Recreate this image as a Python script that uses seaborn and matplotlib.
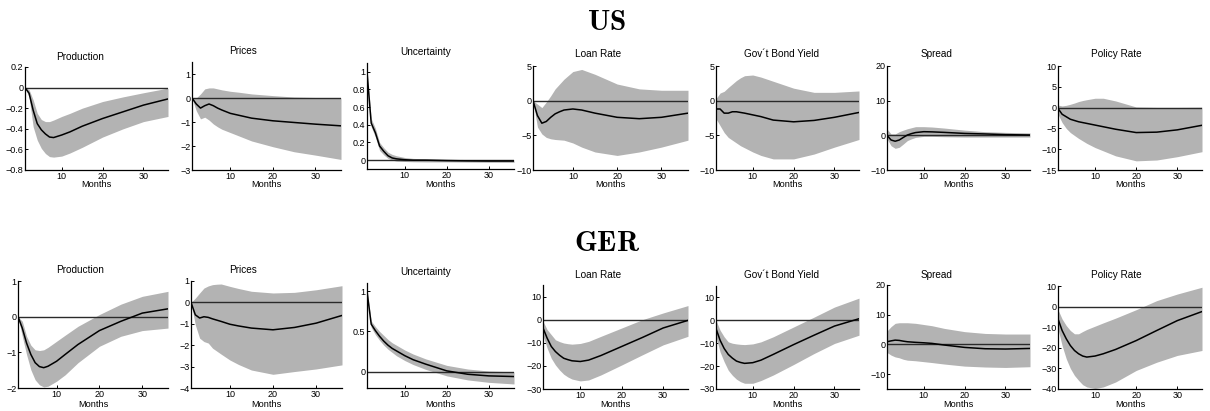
import matplotlib
matplotlib.use("Agg")
import matplotlib.pyplot as plt
import numpy as np
import pandas as pd
import seaborn as sns

# ---------------- data ----------------
MONTHS = [1, 2, 3, 4, 5, 6, 7, 8, 10, 12, 15, 20, 25, 30, 36]
VARIABLES = ["Production", "Prices", "Uncertainty", "Loan Rate",
             "Gov\u00b4t Bond Yield", "Spread", "Policy Rate"]
COUNTRIES = ["US", "GER"]

# US
US_PROD_MED = [0, -0.055, -0.22, -0.35, -0.41, -0.45, -0.48, -0.485, -0.46, -0.43, -0.375, -0.30, -0.235, -0.17, -0.11]
US_PROD_UP = [0, -0.02, -0.12, -0.25, -0.31, -0.33, -0.33, -0.315, -0.28, -0.25, -0.20, -0.135, -0.09, -0.05, -0.005]
US_PROD_LO = [0, -0.09, -0.38, -0.51, -0.59, -0.64, -0.67, -0.675, -0.665, -0.635, -0.58, -0.48, -0.40, -0.33, -0.28]

US_PRICES_MED = [0, -0.25, -0.42, -0.32, -0.25, -0.32, -0.42, -0.5, -0.64, -0.72, -0.84, -0.95, -1.02, -1.09, -1.16]
US_PRICES_UP = [0, 0.0, 0.17, 0.38, 0.42, 0.42, 0.38, 0.34, 0.28, 0.24, 0.17, 0.10, 0.04, 0.02, 0.01]
US_PRICES_LO = [0, -0.53, -0.87, -0.80, -0.92, -1.08, -1.2, -1.3, -1.44, -1.58, -1.79, -2.03, -2.24, -2.38, -2.56]

US_UNC_MED = [1.0, 0.42, 0.31, 0.16, 0.10, 0.05, 0.025, 0.015, 0.005, 0.0, 0.0, -0.005, -0.008, -0.01, -0.01]
US_UNC_UP = [1.0, 0.47, 0.36, 0.20, 0.14, 0.09, 0.065, 0.05, 0.03, 0.02, 0.015, 0.01, 0.007, 0.005, 0.005]
US_UNC_LO = [1.0, 0.38, 0.26, 0.11, 0.06, 0.02, 0.0, -0.01, -0.015, -0.018, -0.02, -0.02, -0.022, -0.024, -0.025]

US_LOAN_MED = [0, -2.15, -3.25, -3.0, -2.4, -1.9, -1.6, -1.35, -1.2, -1.35, -1.8, -2.4, -2.6, -2.4, -1.8]
US_LOAN_UP = [0, -0.5, -1.0, -0.2, 0.7, 1.7, 2.4, 3.1, 4.2, 4.5, 3.8, 2.4, 1.7, 1.5, 1.5]
US_LOAN_LO = [0, -3.8, -4.8, -5.3, -5.5, -5.6, -5.65, -5.7, -6.1, -6.7, -7.4, -7.9, -7.4, -6.7, -5.7]

US_GOV_MED = [-1.2, -1.2, -1.8, -1.8, -1.6, -1.6, -1.7, -1.8, -2.05, -2.3, -2.8, -3.05, -2.85, -2.4, -1.7]
US_GOV_UP = [0.3, 1.1, 1.35, 1.9, 2.4, 2.9, 3.3, 3.6, 3.7, 3.4, 2.8, 1.8, 1.2, 1.2, 1.4]
US_GOV_LO = [-2.6, -3.6, -4.6, -5.3, -5.7, -6.1, -6.5, -6.8, -7.4, -7.9, -8.4, -8.4, -7.7, -6.7, -5.6]

US_SPREAD_MED = [0, -1.35, -1.7, -1.35, -0.6, 0.1, 0.5, 0.8, 1.05, 1.0, 0.85, 0.55, 0.4, 0.2, 0.1]
US_SPREAD_UP = [1.8, 0.4, 0.4, 1.05, 1.5, 1.9, 2.2, 2.5, 2.5, 2.4, 2.1, 1.5, 1.05, 0.85, 0.7]
US_SPREAD_LO = [-1.0, -3.0, -3.75, -3.45, -2.5, -1.5, -1.0, -0.6, -0.3, -0.3, -0.4, -0.5, -0.5, -0.5, -0.5]

US_POLICY_MED = [-0.2, -1.6, -2.2, -2.8, -3.1, -3.4, -3.6, -3.8, -4.2, -4.6, -5.2, -6.0, -5.9, -5.35, -4.25]
US_POLICY_UP = [0.6, 0.4, 0.55, 0.8, 1.1, 1.45, 1.7, 1.9, 2.25, 2.25, 1.6, 0.15, 0.05, 0.05, 0.1]
US_POLICY_LO = [-1.6, -3.6, -5.0, -6.0, -6.7, -7.4, -8.0, -8.6, -9.6, -10.4, -11.6, -12.8, -12.6, -11.8, -10.6]

# GER
GER_PROD_MED = [0, -0.32, -0.74, -1.06, -1.29, -1.40, -1.43, -1.39, -1.25, -1.06, -0.78, -0.39, -0.13, 0.10, 0.22]
GER_PROD_UP = [0, -0.13, -0.55, -0.80, -0.93, -0.95, -0.93, -0.86, -0.69, -0.52, -0.27, 0.06, 0.35, 0.57, 0.71]
GER_PROD_LO = [0, -0.55, -1.06, -1.49, -1.77, -1.91, -1.97, -1.95, -1.81, -1.63, -1.29, -0.83, -0.55, -0.39, -0.32]

GER_PRICES_MED = [0, -0.58, -0.73, -0.67, -0.70, -0.77, -0.83, -0.89, -1.02, -1.10, -1.20, -1.28, -1.17, -0.97, -0.61]
GER_PRICES_UP = [0, 0.2, 0.44, 0.67, 0.77, 0.83, 0.85, 0.86, 0.75, 0.65, 0.52, 0.44, 0.47, 0.59, 0.78]
GER_PRICES_LO = [0, -1.05, -1.67, -1.83, -1.90, -2.14, -2.28, -2.42, -2.69, -2.90, -3.16, -3.36, -3.23, -3.11, -2.92]

GER_UNC_MED = [1.0, 0.59, 0.51, 0.44, 0.38, 0.33, 0.29, 0.26, 0.20, 0.15, 0.095, 0.012, -0.03, -0.05, -0.058]
GER_UNC_UP = [1.0, 0.63, 0.56, 0.50, 0.45, 0.40, 0.36, 0.33, 0.27, 0.22, 0.16, 0.08, 0.035, 0.01, 0.0]
GER_UNC_LO = [1.0, 0.55, 0.46, 0.39, 0.33, 0.28, 0.24, 0.20, 0.14, 0.09, 0.03, -0.05, -0.10, -0.13, -0.15]

GER_LOAN_MED = [-3.6, -8.0, -11.6, -13.8, -15.4, -16.7, -17.3, -17.8, -18.1, -17.5, -15.5, -11.6, -7.7, -3.6, -0.3]
GER_LOAN_UP = [-0.7, -4.3, -6.5, -8.7, -9.5, -10.1, -10.4, -10.6, -10.3, -9.4, -7.2, -3.6, 0.0, 2.9, 6.1]
GER_LOAN_LO = [-6.8, -12.3, -16.7, -19.6, -21.8, -23.6, -24.8, -25.7, -26.5, -26.1, -23.9, -19.6, -15.2, -10.9, -7.2]

GER_GOV_MED = [-3.6, -8.7, -12.3, -14.9, -16.5, -17.8, -18.4, -18.8, -18.5, -17.4, -14.9, -10.6, -6.5, -2.5, 0.7]
GER_GOV_UP = [0.0, -4.3, -7.2, -9.4, -10.0, -10.3, -10.5, -10.6, -10.3, -9.4, -7.2, -2.9, 1.4, 5.8, 9.7]
GER_GOV_LO = [-7.2, -13.8, -18.1, -21.8, -24.0, -25.7, -26.8, -27.5, -27.5, -26.3, -23.9, -19.3, -14.5, -10.1, -6.5]

GER_SPREAD_MED = [0.9, 1.2, 1.45, 1.35, 1.1, 0.9, 0.8, 0.7, 0.55, 0.35, -0.2, -1.0, -1.45, -1.55, -1.35]
GER_SPREAD_UP = [4.5, 6.0, 7.1, 7.3, 7.3, 7.3, 7.2, 7.1, 6.7, 6.3, 5.4, 4.3, 3.7, 3.5, 3.5]
GER_SPREAD_LO = [-2.7, -3.6, -4.2, -4.5, -5.0, -5.3, -5.4, -5.5, -5.8, -6.1, -6.6, -7.3, -7.6, -7.75, -7.5]

GER_POLICY_MED = [-6, -11.6, -15.6, -18.9, -21.3, -22.9, -24.0, -24.5, -24.0, -22.9, -20.8, -16.5, -11.6, -6.8, -2.4]
GER_POLICY_UP = [-1.5, -6, -9.2, -11.6, -13.2, -13.2, -12.1, -11.1, -9.5, -7.9, -5.6, -1.5, 2.9, 6.1, 9.4]
GER_POLICY_LO = [-10.8, -18.9, -25.3, -30, -33.4, -35.8, -37.9, -39, -39.8, -39, -36.6, -31, -27, -23.7, -21.3]

X_TICKS = [10, 20, 30]
US_YTICKS = [[-0.8, -0.6, -0.4, -0.2, 0, 0.2], [-3, -2, -1, 0, 1], [0, 0.2, 0.4, 0.6, 0.8, 1],
             [-10, -5, 0, 5], [-10, -5, 0, 5], [-10, 0, 10, 20], [-15, -10, -5, 0, 5, 10]]
GER_YTICKS = [[-2, -1, 0, 1], [-4, -3, -2, -1, 0, 1], [0, 0.5, 1],
              [-30, -20, -10, 0, 10], [-30, -20, -10, 0, 10], [-10, 0, 10, 20], [-40, -30, -20, -10, 0, 10]]

# ---------------- layout / style ----------------
US_YLIM = [(-0.8, 0.2), (-3, 1.5), (-0.1, 1.1), (-10, 5), (-10, 5), (-10, 20), (-15, 10)]
GER_YLIM = [(-2, 1), (-4, 1), (-0.2, 1.1), (-30, 15), (-30, 15), (-15, 20), (-40, 10)]

W, H = 1210, 411
# (left, right, top, bottom) in pixels
US_BOX = [(25, 168, 67, 170), (192, 341, 62, 170), (367, 514, 63, 169), (533, 688, 66, 170),
          (716, 859, 66, 170), (887, 1030, 66, 170), (1058, 1202, 66, 170)]
GER_BOX = [(18, 168, 281, 388), (191, 342, 281, 388), (367, 514, 283, 388), (543, 688, 285, 389),
           (716, 859, 286, 389), (887, 1030, 285, 389), (1058, 1202, 286, 389)]
TITLE_X = [80, 243, 426, 598, 781, 937, 1116]
US_TITLE_Y = [57, 51, 52, 54, 54, 54, 54]
GER_TITLE_Y = [270, 270, 272, 275, 275, 275, 275]
US_MONTHS_Y = 184.5
GER_MONTHS_Y = 404.5

sns.set_theme(style="white")
plt.rcParams["font.family"] = ["Liberation Sans", "DejaVu Sans"]
plt.rcParams["mathtext.fontset"] = "cm"
plt.rcParams["axes.unicode_minus"] = True
plt.rcParams["text.color"] = "black"
plt.rcParams["xtick.color"] = "black"
plt.rcParams["ytick.color"] = "black"

BAND = "#b3b3b3"

us_series = [(US_PROD_MED, US_PROD_LO, US_PROD_UP), (US_PRICES_MED, US_PRICES_LO, US_PRICES_UP),
             (US_UNC_MED, US_UNC_LO, US_UNC_UP), (US_LOAN_MED, US_LOAN_LO, US_LOAN_UP),
             (US_GOV_MED, US_GOV_LO, US_GOV_UP), (US_SPREAD_MED, US_SPREAD_LO, US_SPREAD_UP),
             (US_POLICY_MED, US_POLICY_LO, US_POLICY_UP)]
ger_series = [(GER_PROD_MED, GER_PROD_LO, GER_PROD_UP), (GER_PRICES_MED, GER_PRICES_LO, GER_PRICES_UP),
              (GER_UNC_MED, GER_UNC_LO, GER_UNC_UP), (GER_LOAN_MED, GER_LOAN_LO, GER_LOAN_UP),
              (GER_GOV_MED, GER_GOV_LO, GER_GOV_UP), (GER_SPREAD_MED, GER_SPREAD_LO, GER_SPREAD_UP),
              (GER_POLICY_MED, GER_POLICY_LO, GER_POLICY_UP)]

fig = plt.figure(figsize=(W / 100, H / 100), dpi=100)
fig.patch.set_facecolor("white")


def px(x, y):
    return x / W, 1 - y / H


rows = [
    ("US", us_series, US_BOX, US_YLIM, US_YTICKS, US_TITLE_Y, US_MONTHS_Y, 22),
    ("GER", ger_series, GER_BOX, GER_YLIM, GER_YTICKS, GER_TITLE_Y, GER_MONTHS_Y, 243),
]

for country, series, boxes, ylims, yticks, title_y, months_y, head_y in rows:
    for i, var in enumerate(VARIABLES):
        med, lo, up = series[i]
        l, r, t, b = boxes[i]
        ax = fig.add_axes([l / W, 1 - b / H, (r - l) / W, (b - t) / H])
        df = pd.DataFrame({"month": MONTHS, "median": med, "lower": lo, "upper": up})
        ax.fill_between(df["month"], df["lower"], df["upper"], color=BAND, lw=0, zorder=1)
        ax.axhline(0, color="#2a2a2a", lw=1.0, zorder=2)
        sns.lineplot(data=df, x="month", y="median", ax=ax, color="black", lw=1.1, zorder=3)
        ax.set_xlim(1, 36)
        ax.set_ylim(*ylims[i])
        ax.set_xticks(X_TICKS)
        ax.set_yticks(yticks[i])
        ax.set_xlabel("")
        ax.set_ylabel("")
        ax.set_facecolor("white")
        for s in ["top", "right"]:
            ax.spines[s].set_visible(False)
        for s in ["left", "bottom"]:
            ax.spines[s].set_color("black")
            ax.spines[s].set_linewidth(0.9)
        ax.tick_params(direction="in", length=2.5, width=0.7, labelsize=6.5, pad=1.2,
                       colors="black", left=True, bottom=True)
        ax.yaxis.set_major_formatter(matplotlib.ticker.FuncFormatter(
            lambda v, p: ("%g" % v).replace("-", "\u2212")))
        fig.text(*px(TITLE_X[i], title_y[i]), var, ha="center", va="center", fontsize=7.2, color="black")
        fig.text(*px((l + r) / 2, months_y), "Months", ha="center", va="center", fontsize=6.6, color="black")
    fig.text(*px(607, head_y), r"$\mathbf{%s}$" % country, ha="center", va="center", fontsize=21, color="black")

fig.savefig("out.png", dpi=100, facecolor="white")
